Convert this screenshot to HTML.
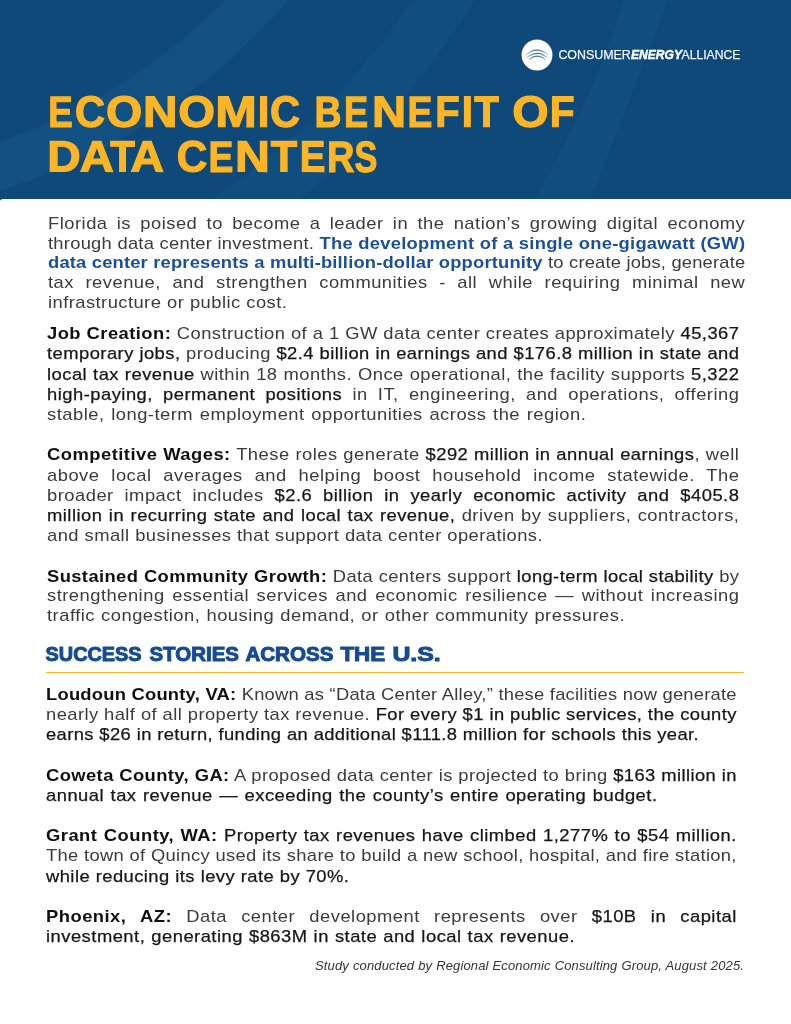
<!DOCTYPE html>
<html lang="en"><head><meta charset="utf-8"><title>Economic Benefit of Data Centers</title>
<style>
html,body{margin:0;padding:0;}
body{width:791px;height:1024px;position:relative;overflow:hidden;background:#fff;
 font-family:"Liberation Sans",sans-serif;}
#hdr{position:absolute;left:0;top:0;width:791px;height:206px;background:#0e497a;overflow:hidden}
#sheet{position:absolute;left:0;top:198.6px;width:791px;height:826px;background:#fff;border-top-left-radius:4px 2px}
.l{position:absolute;white-space:nowrap;text-align:justify;text-align-last:justify;
 font-size:17.0px;line-height:20.0px;height:20.0px;letter-spacing:0.45px;color:#3b3b3b;
 transform-origin:0 0;transform:scaleX(1.08);will-change:transform;}
.l .b{font-weight:bold;color:#101010}
.l .m{color:#161616;-webkit-text-stroke:0.25px #161616}
.l .B{font-weight:bold;color:#1a4f9d}
#rule{position:absolute;left:45.8px;top:671.9px;width:698.4px;height:1.3px;background:#fcb526}
</style></head>
<body>
<div id="hdr"><svg width="791" height="206" viewBox="0 0 791 206" style="position:absolute;left:0;top:0;will-change:transform">
<defs>
<linearGradient id="ag" gradientUnits="userSpaceOnUse" x1="524" y1="0" x2="550" y2="0">
<stop offset="0" stop-color="#3a6aa8" stop-opacity="0.1"/><stop offset="0.3" stop-color="#2f5f9f" stop-opacity="0.7"/>
<stop offset="0.5" stop-color="#24528f" stop-opacity="0.85"/><stop offset="0.7" stop-color="#2f5f9f" stop-opacity="0.7"/>
<stop offset="1" stop-color="#3a6aa8" stop-opacity="0.1"/></linearGradient>
</defs>
<g fill="none">
<circle cx="-188" cy="-406" r="602.5" stroke-width="47" stroke="#115081"/>
<circle cx="-188" cy="-406" r="751" stroke-width="52" stroke="#104e7f"/>
</g>
<path d="M624,0 Q592.5,100 531,206 L588,206 Q630,100 668,0 Z" fill="#104e7f"/>
<circle cx="537" cy="55" r="15.45" fill="#fefefe"/>
<g fill="none" stroke="url(#ag)" stroke-width="1.15" stroke-linecap="round">
<path d="M525.6,55.2 Q537,45 548.4,55.2"/>
<path d="M527.4,57.3 Q537,49.3 546.8,57.3"/>
<path d="M529.3,59.4 Q537,53 545,59.4"/>
</g>
<g font-family="'Liberation Sans',sans-serif" fill="#f2f5fa" stroke="#f2f5fa" stroke-width="0.25" font-size="12.5">
<text x="558.4" y="59.3" textLength="72.4" lengthAdjust="spacingAndGlyphs">CONSUMER</text>
<text x="631" y="59.3" textLength="51" lengthAdjust="spacingAndGlyphs" font-weight="bold" font-style="italic" fill="#ffffff" stroke="#ffffff" stroke-width="0.45">ENERGY</text>
<text x="681.5" y="59.3" textLength="59" lengthAdjust="spacingAndGlyphs">ALLIANCE</text>
</g>
<g font-family="'Liberation Sans',sans-serif" fill="#fdb525" stroke="#fdb525" stroke-width="1.2" stroke-linejoin="miter" font-size="43.8" font-weight="bold">
<text transform="translate(48.24,126.70) rotate(0.03) scale(0.8383,1)">E</text>
<text transform="translate(74.89,126.70) rotate(0.03) scale(0.9498,1)">C</text>
<text transform="translate(105.89,126.70) rotate(0.03) scale(1.0646,1)">O</text>
<text transform="translate(142.90,126.70) rotate(0.03) scale(1.0913,1)">N</text>
<text transform="translate(178.16,126.70) rotate(0.03) scale(1.0811,1)">O</text>
<text transform="translate(215.26,126.70) rotate(0.03) scale(1.1396,1)">M</text>
<text transform="translate(257.71,126.70) rotate(0.03) scale(0.9510,1)">I</text>
<text transform="translate(270.09,126.70) rotate(0.03) scale(0.9498,1)">C</text>
<text transform="translate(314.40,126.70) rotate(0.03) scale(0.8535,1)">B</text>
<text transform="translate(343.98,126.70) rotate(0.03) scale(0.8261,1)">E</text>
<text transform="translate(371.94,126.70) rotate(0.03) scale(1.0796,1)">N</text>
<text transform="translate(407.61,126.70) rotate(0.03) scale(0.8505,1)">E</text>
<text transform="translate(435.22,126.70) rotate(0.03) scale(0.9136,1)">F</text>
<text transform="translate(461.71,126.70) rotate(0.03) scale(0.9193,1)">I</text>
<text transform="translate(474.15,126.70) rotate(0.03) scale(0.9189,1)">T</text>
<text transform="translate(512.28,126.70) rotate(0.03) scale(1.0679,1)">O</text>
<text transform="translate(549.68,126.70) rotate(0.03) scale(0.9271,1)">F</text>
<text transform="translate(47.30,171.60) rotate(0.03) scale(1.0573,1)">D</text>
<text transform="translate(79.82,171.60) rotate(0.03) scale(1.0788,1)">A</text>
<text transform="translate(110.25,171.60) rotate(0.03) scale(0.9189,1)">T</text>
<text transform="translate(130.45,171.60) rotate(0.03) scale(1.0584,1)">A</text>
<text transform="translate(176.66,171.60) rotate(0.03) scale(0.9673,1)">C</text>
<text transform="translate(208.61,171.60) rotate(0.03) scale(0.8505,1)">E</text>
<text transform="translate(234.97,171.60) rotate(0.03) scale(1.1029,1)">N</text>
<text transform="translate(270.82,171.60) rotate(0.03) scale(0.9848,1)">T</text>
<text transform="translate(299.72,171.60) rotate(0.03) scale(0.8790,1)">E</text>
<text transform="translate(326.96,171.60) rotate(0.03) scale(0.8668,1)">R</text>
<text transform="translate(354.61,171.60) rotate(0.03) scale(0.7812,1)">S</text>
</g>
</svg>
</div>
<div id="sheet"></div>
<div class="l" id="L0" style="left:47.50px;top:213.91px;width:645.65px;letter-spacing:0.450px">Florida is poised to become a leader in the nation’s growing digital economy</div>
<div class="l" id="L1" style="left:47.50px;top:233.81px;width:645.65px;letter-spacing:0.232px">through data center investment. <span class="B">The development of a single one-gigawatt (GW)</span></div>
<div class="l" id="L2" style="left:47.50px;top:253.11px;width:645.65px;letter-spacing:0.160px"><span class="B">data center represents a multi-billion-dollar opportunity</span> to create jobs, generate</div>
<div class="l" id="L3" style="left:47.50px;top:273.01px;width:645.65px;letter-spacing:0.450px">tax revenue, and strengthen communities - all while requiring minimal new</div>
<div class="l" id="L4" style="left:47.50px;top:292.91px;width:221.57px;letter-spacing:0.409px">infrastructure or public cost.</div>
<div class="l" id="L5" style="left:47.00px;top:324.11px;width:641.11px;letter-spacing:0.417px"><span class="b">Job Creation:</span> Construction of a 1 GW data center creates approximately <span class="m">45,367</span></div>
<div class="l" id="L6" style="left:47.00px;top:344.41px;width:641.11px;letter-spacing:0.425px"><span class="m">temporary jobs,</span> producing <span class="m">$2.4 billion in earnings and $176.8 million in state and</span></div>
<div class="l" id="L7" style="left:47.00px;top:364.71px;width:641.11px;letter-spacing:0.450px"><span class="m">local tax revenue</span> within 18 months. Once operational, the facility supports <span class="m">5,322</span></div>
<div class="l" id="L8" style="left:47.00px;top:385.01px;width:641.11px;letter-spacing:0.450px"><span class="m">high-paying, permanent positions</span> in IT, engineering, and operations, offering</div>
<div class="l" id="L9" style="left:47.00px;top:405.31px;width:499.35px;letter-spacing:0.450px">stable, long-term employment opportunities across the region.</div>
<div class="l" id="L10" style="left:47.00px;top:445.31px;width:641.11px;letter-spacing:0.450px"><span class="b">Competitive Wages:</span> These roles generate <span class="m">$292 million in annual earnings</span>, well</div>
<div class="l" id="L11" style="left:47.00px;top:465.61px;width:641.11px;letter-spacing:0.450px">above local averages and helping boost household income statewide. The</div>
<div class="l" id="L12" style="left:47.00px;top:485.71px;width:641.11px;letter-spacing:0.450px">broader impact includes <span class="m">$2.6 billion in yearly economic activity and $405.8</span></div>
<div class="l" id="L13" style="left:47.00px;top:505.81px;width:641.11px;letter-spacing:0.450px"><span class="m">million in recurring state and local tax revenue,</span> driven by suppliers, contractors,</div>
<div class="l" id="L14" style="left:47.00px;top:525.91px;width:459.26px;letter-spacing:0.405px">and small businesses that support data center operations.</div>
<div class="l" id="L15" style="left:47.00px;top:566.51px;width:641.11px;letter-spacing:0.369px"><span class="b">Sustained Community Growth:</span> Data centers support <span class="m">long-term local stability</span> by</div>
<div class="l" id="L16" style="left:47.00px;top:586.41px;width:641.11px;letter-spacing:0.450px">strengthening essential services and economic resilience — without increasing</div>
<div class="l" id="L17" style="left:47.00px;top:606.31px;width:535.19px;letter-spacing:0.450px">traffic congestion, housing demand, or other community pressures.</div>
<div class="l" id="L18" style="left:46.00px;top:685.01px;width:639.63px;letter-spacing:0.209px"><span class="b">Loudoun County, VA:</span> Known as “Data Center Alley,” these facilities now generate</div>
<div class="l" id="L19" style="left:46.00px;top:705.21px;width:639.63px;letter-spacing:0.387px">nearly half of all property tax revenue. <span class="m">For every $1 in public services, the county</span></div>
<div class="l" id="L20" style="left:46.00px;top:725.41px;width:604.63px;letter-spacing:0.354px"><span class="m">earns $26 in return, funding an additional $111.8 million for schools this year.</span></div>
<div class="l" id="L21" style="left:46.00px;top:766.41px;width:639.63px;letter-spacing:0.379px"><span class="b">Coweta County, GA:</span> A proposed data center is projected to bring <span class="m">$163 million in</span></div>
<div class="l" id="L22" style="left:46.00px;top:786.41px;width:566.20px;letter-spacing:0.450px"><span class="m">annual tax revenue — exceeding the county’s entire operating budget.</span></div>
<div class="l" id="L23" style="left:46.00px;top:825.71px;width:639.63px;letter-spacing:0.450px"><span class="b">Grant County, WA:</span><span class="m"> Property tax revenues have climbed 1,277% to $54 million.</span></div>
<div class="l" id="L24" style="left:46.00px;top:846.31px;width:639.63px;letter-spacing:0.296px">The town of Quincy used its share to build a new school, hospital, and fire station,</div>
<div class="l" id="L25" style="left:46.00px;top:866.61px;width:280.83px;letter-spacing:0.411px"><span class="m">while reducing its levy rate by 70%.</span></div>
<div class="l" id="L26" style="left:46.00px;top:906.61px;width:639.63px;letter-spacing:0.450px"><span class="b">Phoenix, AZ:</span> Data center development represents over <span class="m">$10B in capital</span></div>
<div class="l" id="L27" style="left:46.00px;top:926.91px;width:489.81px;letter-spacing:0.450px"><span class="m">investment, generating $863M in state and local tax revenue.</span></div>
<div id="rule"></div>
<svg width="791" height="40" viewBox="0 640 791 40" style="position:absolute;left:0;top:640px;will-change:transform">
<g font-family="'Liberation Sans',sans-serif" fill="#174a96" stroke="#174a96" stroke-width="1.0" font-size="20.2" font-weight="bold">
<text x="45.6" y="660.9" textLength="96" lengthAdjust="spacingAndGlyphs">SUCCESS</text>
<text x="149.4" y="660.9" textLength="89.6" lengthAdjust="spacingAndGlyphs">STORIES</text>
<text x="245.4" y="660.9" textLength="88" lengthAdjust="spacingAndGlyphs">ACROSS</text>
<text x="340.4" y="660.9" textLength="44.8" lengthAdjust="spacingAndGlyphs">THE</text>
<text x="392.4" y="660.9" textLength="48.4" lengthAdjust="spacingAndGlyphs">U.S.</text>
</g>
</svg>
<div id="foot" style="position:absolute;left:315.2px;top:957px;width:408.6px;height:18px;line-height:18px;font-size:12.4px;font-style:italic;color:#333;white-space:nowrap;text-align:justify;text-align-last:justify;letter-spacing:0.12px;transform-origin:0 0;transform:scaleX(1.05);will-change:transform">Study conducted by Regional Economic Consulting Group, August 2025.</div>

</body></html>
